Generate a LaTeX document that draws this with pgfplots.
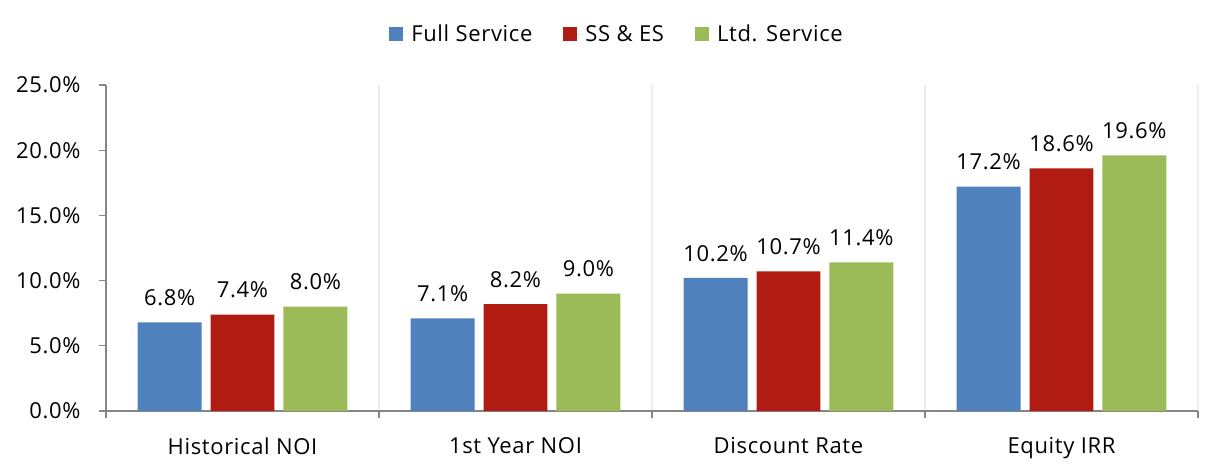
\documentclass[border=0pt]{standalone}
\usepackage{fontspec}
\setmainfont{Open Sans}[LetterSpace=3]
\usepackage{pgfplots}
\pgfplotsset{compat=1.18}
\definecolor{cblue}{RGB}{79,129,189}
\definecolor{cred}{RGB}{176,28,18}
\definecolor{cgreen}{RGB}{155,187,89}
\definecolor{axgray}{RGB}{134,134,134}
\definecolor{gridc}{RGB}{236,236,236}
\newcommand{\lbl}{\fontsize{22}{26}\selectfont}
\begin{document}
\begin{tikzpicture}[x=1pt,y=1pt]
\begin{axis}[
  at={(106pt,64pt)}, anchor=south west,
  scale only axis, width=1092pt, height=326pt,
  xmin=-0.5, xmax=3.5, ymin=0, ymax=25,
  axis x line*=bottom, axis y line*=left,
  axis line style={axgray, line width=1.3pt},
  tick align=outside,
  xtick={0,1,2,3},
  xticklabels={Historical NOI,1st Year NOI,Discount Rate,Equity IRR},
  major x tick style={draw=none},
  minor xtick={-0.5,0.5,1.5,2.5,3.5},
  minor tick length=7pt,
  minor x tick style={axgray, line width=1.3pt},
  xminorgrids,
  minor x grid style={gridc, line width=1.2pt},
  ytick={0,5,10,15,20,25},
  major tick length=7pt,
  y tick style={axgray, line width=1.3pt},
  /pgf/number format/assume math mode=true,
  yticklabel={\pgfmathprintnumber[fixed,fixed zerofill,precision=1]{\tick}\%},
  ticklabel style={font=\lbl, black},
  xticklabel style={yshift=-16pt},
  yticklabel style={xshift=-15pt},
  ybar, bar width=0.234,
  nodes near coords={\pgfmathprintnumber[fixed,fixed zerofill,precision=1,assume math mode=true]{\pgfplotspointmeta}\%},
  every node near coord/.append style={font=\lbl, black, yshift=13pt},
  legend style={at={(0.468,1.156)}, anchor=center, legend columns=-1, draw=none,
    font=\lbl,
    /tikz/every even column/.append style={column sep=29pt}},
  legend image code/.code={\path[#1,draw=none] (0pt,-7pt) rectangle (14pt,7pt); \path (0pt,0pt) -- (20pt,0pt);},
]
\addplot[fill=cblue, draw=none, bar shift=-0.267] coordinates {(0,6.8) (1,7.1) (2,10.2) (3,17.2)};
\addplot[fill=cred, draw=none, bar shift=0] coordinates {(0,7.4) (1,8.2) (2,10.7) (3,18.6)};
\addplot[fill=cgreen, draw=none, bar shift=0.267] coordinates {(0,8.0) (1,9.0) (2,11.4) (3,19.6)};
\legend{Full Service, SS \& ES, Ltd. Service}
\end{axis}
\pgfresetboundingbox
\path (0pt,0pt) rectangle (1222pt,475pt);
\end{tikzpicture}
\end{document}
